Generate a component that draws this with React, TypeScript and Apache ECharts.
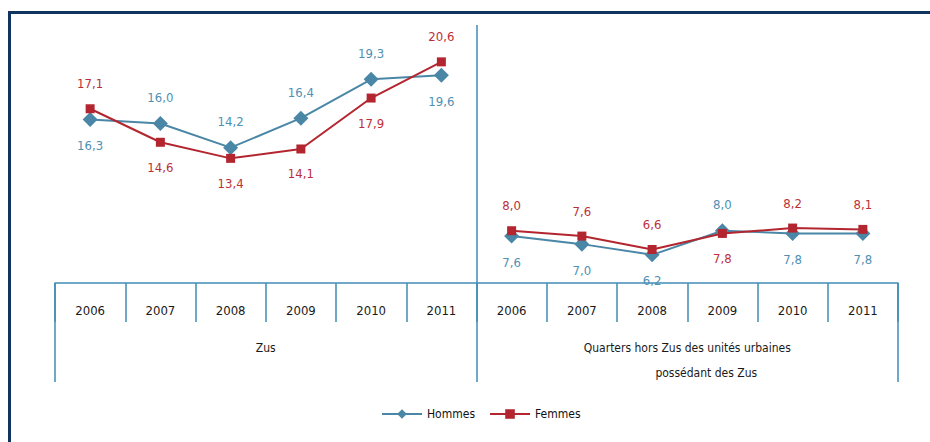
import React, { useEffect, useRef } from "react";
import * as echarts from "echarts";

// Years shown in each half of the table
const years = ["2006", "2007", "2008", "2009", "2010", "2011"];
const zones = ["Zus", "Quarters hors Zus des unités urbaines\npossédant des Zus"];

// Rates (%) per zone and sex
const zusHommes = [16.3, 16.0, 14.2, 16.4, 19.3, 19.6];
const zusFemmes = [17.1, 14.6, 13.4, 14.1, 17.9, 20.6];
const horsZusHommes = [7.6, 7.0, 6.2, 8.0, 7.8, 7.8];
const horsZusFemmes = [8.0, 7.6, 6.6, 7.8, 8.2, 8.1];

const FONT = "'Liberation Sans Narrow', 'DejaVu Sans Condensed', 'Arial Narrow', sans-serif";
const BLUE = "#4a87a6";
const RED = "#b3262f";
const RULE = "#3f8db5";
const NAVY = "#12355f";

const fmt = (v: number) => v.toFixed(1).replace(".", ",");

export default function App() {
  const ref = useRef<HTMLDivElement>(null);

  useEffect(() => {
    if (!ref.current) return;
    const chart = echarts.init(ref.current, null, { renderer: "svg" });

    const categories = [...years, ...years];
    const pad = ["-", "-", "-", "-", "-", "-"];

    // which labels sit above their point (true) or below (false)
    const hommesAbove = [false, true, true, true, true, false, false, false, false, true, false, false];
    const femmesAbove = [true, false, false, false, false, true, true, true, true, false, true, true];

    const withLabels = (values: (number | string)[], above: boolean[], offset: number) =>
      values.map((v, i) =>
        v === "-"
          ? v
          : { value: v, label: { position: above[i] ? "top" : "bottom", distance: offset } }
      );

    const hommesStyle = {
      name: "Hommes",
      type: "line",
      symbol: "diamond",
      symbolSize: 15,
      itemStyle: { color: BLUE },
      lineStyle: { color: BLUE, width: 2 },
      label: {
        show: true,
        color: "#4f90b3",
        fontFamily: FONT,
        fontSize: 13,
        formatter: (p: any) => fmt(p.value),
      },
      z: 2,
    };
    const femmesStyle = {
      name: "Femmes",
      type: "line",
      symbol: "rect",
      symbolSize: 9,
      itemStyle: { color: RED },
      lineStyle: { color: RED, width: 2 },
      label: {
        show: true,
        color: "#bb2f38",
        fontFamily: FONT,
        fontSize: 13,
        formatter: (p: any) => fmt(p.value),
      },
      z: 3,
    };

    chart.setOption({
      animation: false,
      backgroundColor: "#ffffff",
      graphic: [
        { type: "rect", shape: { x: 8, y: 11, width: 922, height: 3 }, style: { fill: NAVY } },
        { type: "rect", shape: { x: 8, y: 11, width: 3, height: 431 }, style: { fill: NAVY } },
      ],
      grid: { left: 55, right: 32, top: 25, bottom: 159, containLabel: false },
      legend: {
        data: ["Hommes", "Femmes"],
        left: 376,
        top: 403,
        itemWidth: 40,
        itemHeight: 12,
        itemGap: 14,
        textStyle: { fontFamily: FONT, fontSize: 12, color: "#111111" },
      },
      xAxis: [
        {
          type: "category",
          data: categories,
          position: "bottom",
          boundaryGap: true,
          axisLine: { show: true, lineStyle: { color: RULE, width: 1.5 } },
          axisTick: { show: true, interval: 0, length: 39, lineStyle: { color: RULE, width: 1.5 } },
          axisLabel: { interval: 0, margin: 21, color: "#1a1a1a", fontFamily: FONT, fontSize: 13 },
          splitLine: { show: false },
        },
        {
          type: "category",
          data: zones,
          position: "bottom",
          boundaryGap: true,
          axisLine: { show: false },
          axisTick: { show: true, interval: 0, length: 99, lineStyle: { color: RULE, width: 1.5 } },
          axisLabel: {
            interval: 0,
            margin: 52,
            color: "#1a1a1a",
            fontFamily: FONT,
            fontSize: 12,
            formatter: (v: string) => {
              const lines = v.split("\n");
              return lines.length > 1 ? `{a|${lines[0]}}\n{b|${lines[1]}}` : `{a|${v}}`;
            },
            rich: {
              a: { fontFamily: FONT, fontSize: 12, color: "#1a1a1a", lineHeight: 25 },
              b: { fontFamily: FONT, fontSize: 12, color: "#1a1a1a", lineHeight: 25, padding: [0, 0, 0, 38] },
            },
          },
          splitLine: {
            show: true,
            showMinLine: false,
            showMaxLine: false,
            lineStyle: { color: RULE, width: 1.5 },
          },
        },
      ],
      yAxis: {
        type: "value",
        min: 4.1,
        max: 23.35,
        show: false,
        splitLine: { show: false },
      },
      series: [
        { ...hommesStyle, data: withLabels([...zusHommes, ...pad], hommesAbove, 12) },
        { ...hommesStyle, data: withLabels([...pad, ...horsZusHommes], hommesAbove, 12) },
        { ...femmesStyle, data: withLabels([...zusFemmes, ...pad], femmesAbove, 14) },
        { ...femmesStyle, data: withLabels([...pad, ...horsZusFemmes], femmesAbove, 14) },
      ],
    });

    return () => chart.dispose();
  }, []);

  return (
    <div
      ref={ref}
      style={{ position: "absolute", left: 0, top: 0, width: 930, height: 442 }}
    />
  );
}
